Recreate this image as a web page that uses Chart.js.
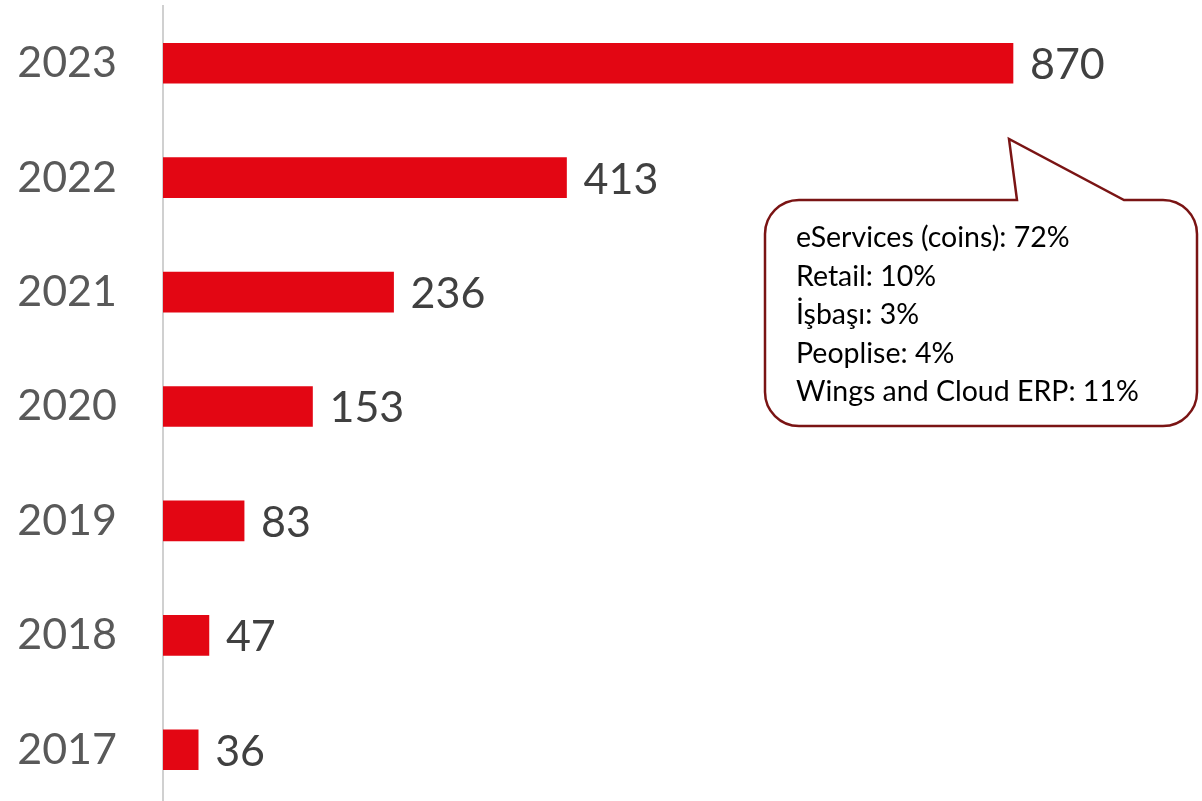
<!DOCTYPE html>
<html>
<head>
<meta charset="utf-8">
<script src="https://cdn.jsdelivr.net/npm/chart.js"></script>
<style>
  html, body { margin: 0; padding: 0; background: #fff; overflow: hidden; }
  canvas { display: block; }
</style>
</head>
<body>
<canvas id="revChart" width="1202" height="807"></canvas>
<script>
  const years = ['2023', '2022', '2021', '2020', '2019', '2018', '2017'];
  const revenue = [870, 413, 236, 153, 83, 47, 36];
  const breakdownLines = [
    'eServices (coins): 72%',
    'Retail: 10%',
    'İşbaşı: 3%',
    'Peoplise: 4%',
    'Wings and Cloud ERP: 11%'
  ];

  const FONT = 'Lato, "Open Sans", sans-serif';

  // numbers to the right of each bar
  const valueLabels = {
    id: 'valueLabels',
    afterDatasetsDraw(chart) {
      const ctx = chart.ctx;
      const meta = chart.getDatasetMeta(0);
      ctx.save();
      ctx.font = '43px ' + FONT;
      ctx.fillStyle = '#404040';
      ctx.textAlign = 'left';
      ctx.textBaseline = 'middle';
      meta.data.forEach((bar, i) => {
        ctx.fillText(String(revenue[i]), bar.x + 17, bar.y + 2);
      });
      ctx.restore();
    }
  };

  // speech bubble pointing at the 2023 bar
  const callout = {
    id: 'callout',
    afterDraw(chart) {
      const ctx = chart.ctx;
      const x0 = 765, y0 = 200, x1 = 1197, y1 = 426, r = 34;
      const tipX = 1009, tipY = 139;
      ctx.save();
      ctx.beginPath();
      ctx.moveTo(x0 + r, y0);
      ctx.lineTo(1017, y0);
      ctx.lineTo(tipX, tipY);
      ctx.lineTo(1124, y0);
      ctx.lineTo(x1 - r, y0);
      ctx.arcTo(x1, y0, x1, y0 + r, r);
      ctx.lineTo(x1, y1 - r);
      ctx.arcTo(x1, y1, x1 - r, y1, r);
      ctx.lineTo(x0 + r, y1);
      ctx.arcTo(x0, y1, x0, y1 - r, r);
      ctx.lineTo(x0, y0 + r);
      ctx.arcTo(x0, y0, x0 + r, y0, r);
      ctx.closePath();
      ctx.fillStyle = '#ffffff';
      ctx.fill();
      ctx.lineWidth = 2.5;
      ctx.strokeStyle = '#7a1414';
      ctx.stroke();

      ctx.font = '28.5px ' + FONT;
      ctx.fillStyle = '#000000';
      ctx.textAlign = 'left';
      ctx.textBaseline = 'alphabetic';
      breakdownLines.forEach((line, i) => {
        ctx.fillText(line, 796, 247 + i * 38.5);
      });
      ctx.restore();
    }
  };

  new Chart(document.getElementById('revChart'), {
    type: 'bar',
    data: {
      labels: years,
      datasets: [{
        data: revenue,
        backgroundColor: '#e30613',
        borderWidth: 0,
        barThickness: 40
      }]
    },
    options: {
      indexAxis: 'y',
      responsive: false,
      animation: false,
      layout: { padding: { top: 6, right: 62, bottom: 0, left: 0 } },
      plugins: {
        legend: { display: false },
        tooltip: { enabled: false }
      },
      scales: {
        x: {
          min: 0,
          max: 1000,
          display: false
        },
        y: {
          grid: { display: false, drawTicks: false },
          border: { display: true, color: '#d0d0d0', width: 2 },
          ticks: {
            color: '#595959',
            padding: 46,
            font: { family: FONT, size: 43 }
          },
          afterFit(scale) {
            // fixed gutter for the year labels, no extra room above/below
            scale.width = 163;
            scale.paddingTop = 0;
            scale.paddingBottom = 0;
          }
        }
      }
    },
    plugins: [valueLabels, callout]
  });
</script>
</body>
</html>
